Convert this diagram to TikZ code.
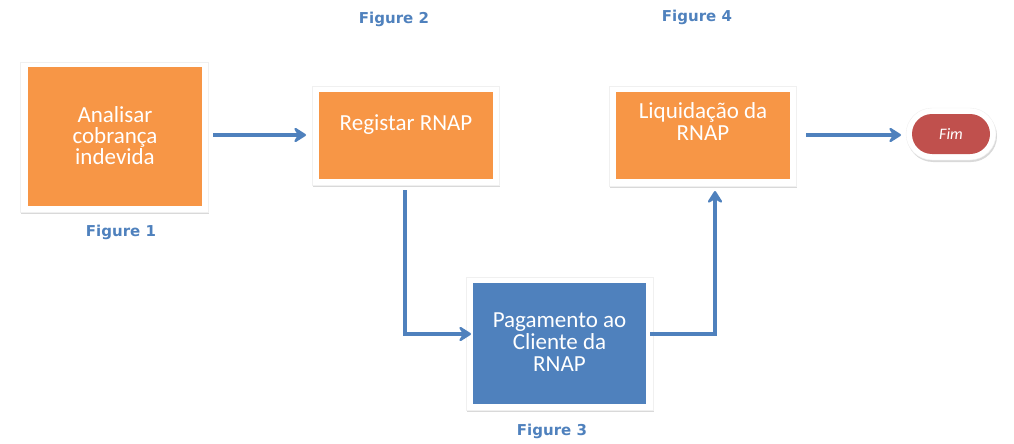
\documentclass[tikz,border=0pt]{standalone}
\usepackage{fontspec}
\setmainfont{Carlito}
\newfontfamily\verd{DejaVu Sans}
\usetikzlibrary{arrows.meta,shadows}
\definecolor{acc}{HTML}{4F81BD}
\definecolor{org}{HTML}{F79646}
\definecolor{redf}{HTML}{C0504D}
\begin{document}
\begin{tikzpicture}[x=1pt,y=-1pt,
  frame/.style={fill=white,draw=gray!12,line width=0.4pt,inner sep=0pt,
     drop shadow={shadow xshift=1pt,shadow yshift=-2pt,opacity=0.3,fill=gray}},
  fillbox/.style={inner sep=0pt},
  txt/.style={inner sep=0pt,text=white,anchor=base,font=\fontsize{23}{22}\selectfont},
  figcap/.style={text=acc,font=\verd\bfseries\fontsize{15}{18}\selectfont},
  conn/.style={draw=acc,line width=3.5pt,-{Stealth[length=15pt,width=19pt,inset=6pt,round]}}]
\useasboundingbox (0,0) rectangle (1014,444);
% box 1
\node[frame,minimum width=188pt,minimum height=150pt] (f1) at (114,137) {};
\node[fillbox,fill=org,minimum width=174pt,minimum height=139pt] (b1) at (115,136.5) {};
\node[txt] (t1a) at (115,122) {Analisar};
\node[txt] (t1b) at (115,143) {cobrança};
\node[txt] (t1c) at (115,164) {indevida};
\node[figcap] (c1) at (121,232) {Figure 1};
% box 2
\node[frame,minimum width=187pt,minimum height=99pt] (f2) at (405.5,135.5) {};
\node[fillbox,fill=org,minimum width=174pt,minimum height=87pt] (b2) at (406,135.5) {};
\node[txt] (t2) at (406,130) {Registar RNAP};
\node[figcap] (c2) at (394,19) {Figure 2};
% box 4
\node[frame,minimum width=187pt,minimum height=100pt] (f4) at (702.5,136) {};
\node[fillbox,fill=org,minimum width=174pt,minimum height=87pt] (b4) at (703,135.5) {};
\node[txt] (t4a) at (703,118) {Liquidação da};
\node[txt] (t4b) at (703,140) {RNAP};
\node[figcap] (c4) at (697,17) {Figure 4};
% box 3
\node[frame,minimum width=187pt,minimum height=133pt] (f3) at (559.5,343.5) {};
\node[fillbox,fill=acc,minimum width=173pt,minimum height=121pt] (b3) at (559.5,343.5) {};
\node[txt] (t3a) at (559.5,327) {Pagamento ao};
\node[txt] (t3b) at (559.5,349) {Cliente da};
\node[txt] (t3c) at (559.5,371) {RNAP};
\node[figcap] (c3) at (552,431) {Figure 3};
% Fim
\node[frame,rounded corners=26pt,minimum width=90pt,minimum height=52pt] (fe) at (951,134) {};
\node[fill=redf,rounded corners=20pt,minimum width=78pt,minimum height=40pt,inner sep=0pt,text=white,font=\itshape\fontsize{16}{18}\selectfont] (fim) at (951,134) {Fim};
% connectors
\coordinate (a1s) at (213,135);
\coordinate (a1e) at (306,135);
\coordinate (a2s) at (405,190);
\coordinate (a2e) at (471,334);
\coordinate (a3s) at (650,334);
\coordinate (a3e) at (715,191);
\coordinate (a4s) at (806,135);
\coordinate (a4e) at (901,135);
\draw[conn] (a1s) -- (a1e);
\draw[conn] (a2s) |- (a2e);
\draw[conn] (a3s) -| (a3e);
\draw[conn] (a4s) -- (a4e);
\end{tikzpicture}
\end{document}
